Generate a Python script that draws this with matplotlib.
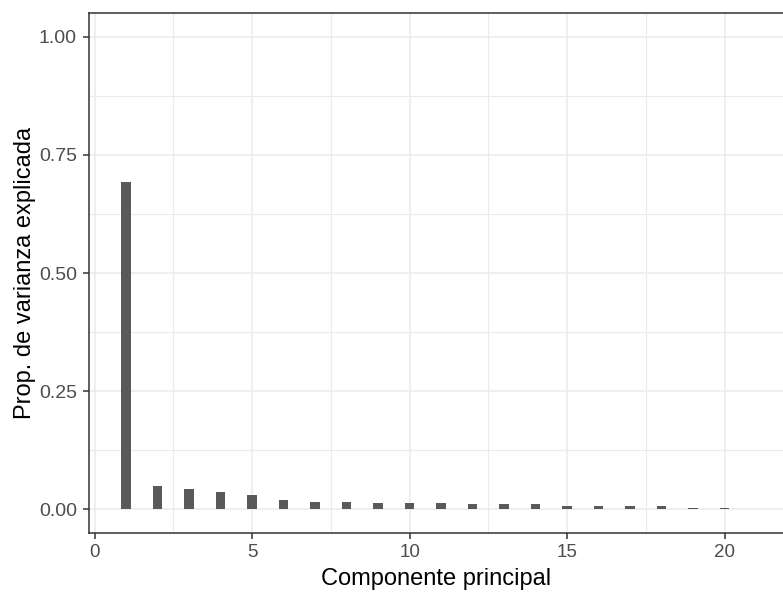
import numpy as np
import matplotlib
matplotlib.use("Agg")
import matplotlib.pyplot as plt
from matplotlib.ticker import MultipleLocator

plt.rcParams['font.family'] = ['Liberation Sans', 'DejaVu Sans']

# Proportion of variance explained per principal component
componentes = np.arange(1, 21)
prop_varianza = [0.693, 0.049, 0.042, 0.036, 0.030, 0.020, 0.016, 0.016, 0.013, 0.013,
                 0.013, 0.010, 0.010, 0.010, 0.007, 0.007, 0.007, 0.007, 0.003, 0.003]

y_ticks = [0.00, 0.25, 0.50, 0.75, 1.00]
x_ticks = [0, 5, 10, 15, 20]

fig = plt.figure(figsize=(7.83, 5.92), dpi=100)
ax = fig.add_axes([0.114, 0.1002, 0.886, 0.8773])

ax.bar(componentes, prop_varianza, width=0.3, color='#595959', zorder=3)

ax.set_xlim(-0.17, 21.85)
ax.set_ylim(-0.05, 1.05)
ax.set_xticks(x_ticks)
ax.set_yticks(y_ticks)
ax.set_yticklabels([f'{v:.2f}' for v in y_ticks])
ax.xaxis.set_minor_locator(MultipleLocator(2.5))
ax.yaxis.set_minor_locator(MultipleLocator(0.125))

# ggplot theme_bw look
ax.set_facecolor('white')
ax.grid(True, which='major', color='#EBEBEB', linewidth=1.1, zorder=0)
ax.grid(True, which='minor', color='#EBEBEB', linewidth=0.8, zorder=0)
for side in ['left', 'bottom', 'top']:
    ax.spines[side].set_color('#333333')
    ax.spines[side].set_linewidth(1.1)
ax.spines['right'].set_visible(False)
ax.tick_params(which='major', length=4, width=1.1, color='#333333',
               labelcolor='#4D4D4D', labelsize=13.5, pad=4)
ax.tick_params(axis='y', which='major', labelsize=14, pad=5)
ax.tick_params(which='minor', length=0)

ax.set_xlabel('Componente principal', fontsize=17, color='black', labelpad=5)
ax.set_ylabel('Prop. de varianza explicada', fontsize=17, color='black', labelpad=2)

fig.savefig('out.png', dpi=100)
